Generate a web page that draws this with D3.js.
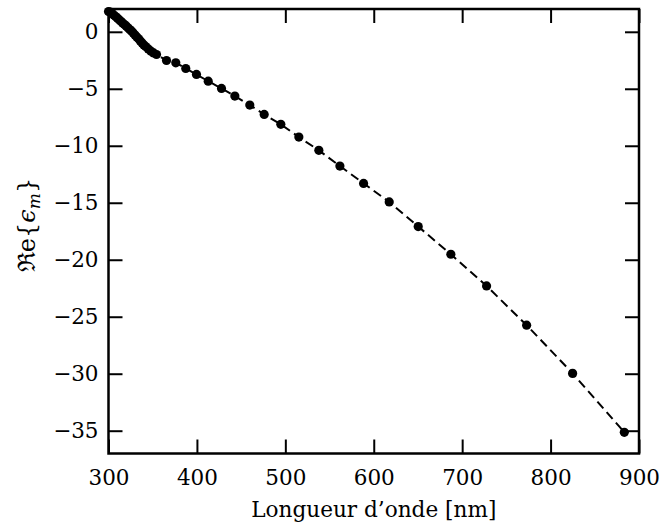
<!DOCTYPE html>
<html lang="fr">
<head>
<meta charset="UTF-8">
<script src="https://d3js.org/d3.v7.min.js"></script>
<style>
  body { margin: 0; background: #fff; }
  text { fill: #000; }
</style>
</head>
<body>
<svg id="graph" width="660" height="523"></svg>
<script>
// wavelength (nm) and Re{eps_m}
const lambda = [300, 302, 304, 306, 308, 310, 312, 314, 316, 318, 320, 322, 324, 326, 328,
  330, 332, 334, 336, 338, 340, 342, 345, 348, 351,
  354.3, 365.6, 376.1, 387.4, 399.5, 412.8, 427.8, 442.9, 459.8, 476.1, 494.9,
  515.3, 537.9, 561.7, 588.5, 617.5, 650.3, 687.2, 727.6, 772.9, 824.9, 883.4];
const reEps = [1.78, 1.72, 1.6, 1.47, 1.34, 1.2, 1.06, 0.92, 0.78, 0.64, 0.5, 0.35, 0.2, 0.06, -0.1,
  -0.28, -0.45, -0.62, -0.8, -0.98, -1.15, -1.3, -1.5, -1.7, -1.85,
  -1.99, -2.52, -2.72, -3.22, -3.74, -4.33, -4.97, -5.64, -6.43, -7.25, -8.12,
  -9.24, -10.40, -11.78, -13.30, -14.93, -17.09, -19.52, -22.30, -25.74, -29.97, -35.14];
const xTicks = [300, 400, 500, 600, 700, 800, 900];
const yTicks = [0, -5, -10, -15, -20, -25, -30, -35];

const data = lambda.map((l, i) => ({ l: l, e: reEps[i] }));

const FONT = "'DejaVu Serif', serif";

const svg = d3.select("#graph");
const pL = 108.5, pR = 639, pT = 9, pB = 453.5;

const x = d3.scaleLinear().domain([300, 900]).range([pL, pR]);
const y = d3.scaleLinear().domain([-37, 2]).range([pB, pT]);

const fmt = d => d < 0 ? "\u2212" + Math.abs(d) : String(d);

// ticks, inward on all four sides
const tl = 14;
const styleTicks = g => g.selectAll("line").attr("stroke", "#000").attr("stroke-width", 2);
svg.append("g").attr("transform", `translate(0,${pB})`)
  .call(d3.axisBottom(x).tickValues(xTicks).tickSize(-tl).tickFormat(fmt).tickPadding(16.5))
  .call(g => g.select(".domain").remove())
  .call(styleTicks)
  .call(g => g.selectAll("text").attr("font-size", 21.5).attr("font-family", FONT));
svg.append("g").attr("transform", `translate(0,${pT})`)
  .call(d3.axisTop(x).tickValues(xTicks).tickSize(-tl).tickFormat(""))
  .call(g => g.select(".domain").remove())
  .call(styleTicks);
svg.append("g").attr("transform", `translate(${pL},0)`)
  .call(d3.axisLeft(y).tickValues(yTicks).tickSize(-tl).tickFormat(fmt).tickPadding(10))
  .call(g => g.select(".domain").remove())
  .call(styleTicks)
  .call(g => g.selectAll("text").attr("font-size", 21.5).attr("font-family", FONT));
svg.append("g").attr("transform", `translate(${pR},0)`)
  .call(d3.axisRight(y).tickValues(yTicks).tickSize(-tl).tickFormat(""))
  .call(g => g.select(".domain").remove())
  .call(styleTicks);

// dashed curve
const line = d3.line().x(d => x(d.l)).y(d => y(d.e));
svg.append("path").datum(data)
  .attr("d", line)
  .attr("fill", "none")
  .attr("stroke", "#000")
  .attr("stroke-width", 2)
  .attr("stroke-dasharray", "9,5");

// points
svg.append("g").selectAll("circle").data(data)
  .join("circle")
  .attr("cx", d => x(d.l))
  .attr("cy", d => y(d.e))
  .attr("r", 4.6)
  .attr("fill", "#000");

// frame
svg.append("rect")
  .attr("x", pL).attr("y", pT)
  .attr("width", pR - pL).attr("height", pB - pT)
  .attr("fill", "none").attr("stroke", "#000").attr("stroke-width", 2.5);

// axis titles
svg.append("text")
  .attr("x", (pL + pR) / 2).attr("y", 517)
  .attr("text-anchor", "middle").attr("font-size", 21.6).attr("font-family", FONT)
  .text("Longueur d\u2019onde [nm]");

const yl = svg.append("text")
  .attr("transform", "translate(35,225) rotate(-90)")
  .attr("text-anchor", "middle").attr("font-size", 24).attr("font-family", FONT);
yl.append("tspan").text("\u211Ce{");
yl.append("tspan").attr("font-style", "italic").text("\u03F5");
yl.append("tspan").attr("font-style", "italic").attr("font-size", 17).attr("dy", 5).text("m");
yl.append("tspan").attr("dy", -5).text("}");
</script>
</body>
</html>
